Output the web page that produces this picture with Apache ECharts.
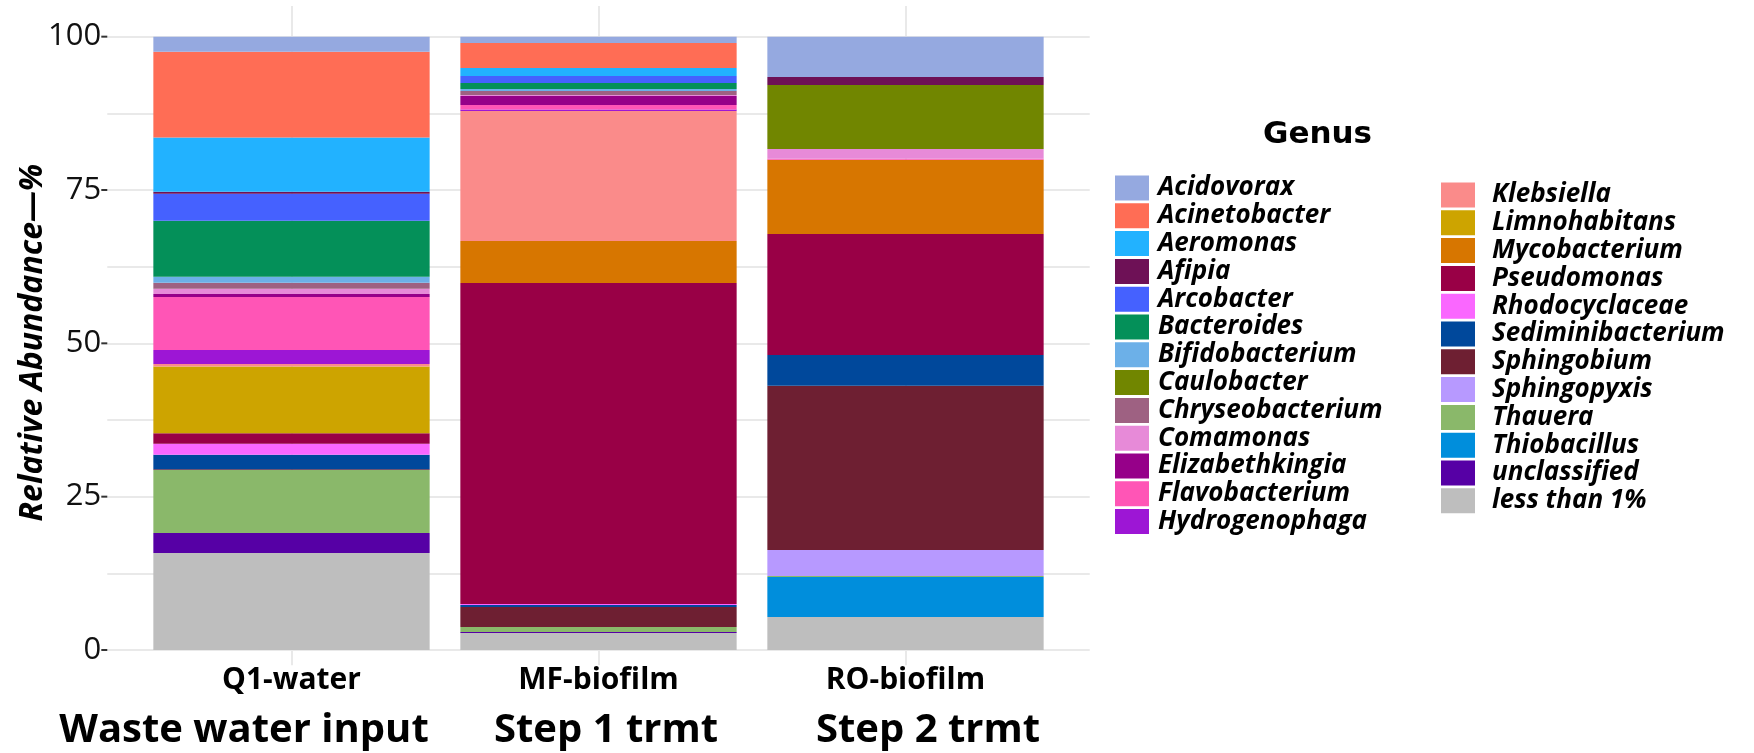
<!DOCTYPE html>
<html><head><meta charset="utf-8">
<script src="https://cdn.jsdelivr.net/npm/echarts@6/dist/echarts.min.js"></script>
<style>html,body{margin:0;padding:0;background:#fff}#c{width:1754px;height:753px}</style>
</head><body><div id="c"></div>
<script>
// ---- data ----
const genera = ['Acidovorax','Acinetobacter','Aeromonas','Afipia','Arcobacter','Bacteroides','Bifidobacterium','Caulobacter','Chryseobacterium','Comamonas','Elizabethkingia','Flavobacterium','Hydrogenophaga','Klebsiella','Limnohabitans','Mycobacterium','Pseudomonas','Rhodocyclaceae','Sediminibacterium','Sphingobium','Sphingopyxis','Thauera','Thiobacillus','unclassified','less than 1%'];
const genusColors = ['#95A9E0','#FF6D55','#22B2FF','#6E1156','#4561FF','#049059','#6CB0E8','#718600','#9E6182','#E78AD8','#960089','#FF55B6','#9D16D5','#FA8B8A','#CDA400','#D77600','#990046','#FA67FF','#00489B','#6E1F32','#B799FF','#8AB86A','#008EDC','#5600A5','#BEBEBE'];
const categories = ['Q1-water','MF-biofilm','RO-biofilm'];
const stageLabels = ['Waste water input','Step 1 trmt','Step 2 trmt'];
const q1Water   = [2.5, 14.0, 8.86, 0.33, 4.40, 9.13, 0.98, 0, 0.98, 0.82, 0.49, 8.64, 2.28, 0.43, 10.87, 0, 1.74, 1.79, 2.34, 0.13, 0, 10.27, 0, 3.26, 15.82];
const mfBiofilm = [1.03, 4.08, 1.30, 0, 1.14, 0.98, 0.33, 0, 0.65, 0.16, 1.47, 0.76, 0.22, 21.2, 0, 6.85, 52.34, 0.16, 0.33, 3.26, 0, 0.82, 0, 0.16, 2.77];
const roBiofilm = [6.58, 0, 0, 1.30, 0, 0, 0, 10.44, 0, 1.58, 0, 0.16, 0, 0, 0, 12.12, 19.73, 0, 5.0, 26.8, 4.24, 0.16, 6.52, 0, 5.38];
const yTickLabels = [0, 25, 50, 75, 100];

// ---- chart ----
const sampleValues = [q1Water, mfBiofilm, roBiofilm];
const FONT = '"Open Sans", Lato, sans-serif';
const T = 'rgba(0,0,0,0)', G = '#e9e9e9';
const isTick = v => yTickLabels.some(t => Math.abs(t - v) < 1e-6);

// stacked bars: first genus ends up on top (added last)
const series = genera.map((g, i) => ({
  name: g, type: 'bar', stack: 'total', barWidth: '90%',
  xAxisIndex: 1, yAxisIndex: 2,
  itemStyle: { color: genusColors[i] },
  data: categories.map((c, k) => sampleValues[k][i])
})).reverse();

const legendText = { fontFamily: FONT, fontStyle: 'italic', fontWeight: 'bold', fontSize: 26, lineHeight: 25, color: '#000' };

const chart = echarts.init(document.getElementById('c'), null, { renderer: 'canvas' });
chart.setOption({
  animation: false,
  backgroundColor: '#fff',
  grid: [
    // plotting panel (with ggplot-like expansion)
    { left: 107.3, right: 664.3, top: 6, bottom: 87.67, containLabel: false, outerBoundsMode: 'none' },
    // data region: 3 category bands, 0..100
    { left: 138.0, right: 695.0, top: 36.67, bottom: 103, containLabel: false, outerBoundsMode: 'none' }
  ],
  xAxis: [{
    gridIndex: 0, type: 'value', min: 0.4, max: 3.6, interval: 0.2,
    axisLine: { show: false }, axisTick: { show: false },
    splitLine: { show: true, lineStyle: { color: [T, T, T, G, T], width: 2 } },
    axisLabel: {
      margin: 0, fontFamily: FONT, fontWeight: 'bold', fontSize: 30, lineHeight: 30, color: '#000',
      formatter: v => { const k = Math.round(v); return (Math.abs(v - k) < 1e-6 && k >= 1 && k <= categories.length) ? categories[k - 1] : ''; }
    }
  }, {
    gridIndex: 1, type: 'category', data: categories, show: false
  }],
  yAxis: [{
    gridIndex: 0, type: 'value', min: -2.5, max: 105, interval: 2.5, position: 'left',
    name: 'Relative Abundance—%', nameLocation: 'middle', nameRotate: 90, nameGap: 58, nameMoveOverlap: false,
    nameTextStyle: { fontFamily: FONT, fontStyle: 'italic', fontWeight: 'bold', fontSize: 32, color: '#000', padding: [0, 14, 0, 0] },
    axisLine: { show: false }, axisTick: { show: false },
    splitLine: { show: true, lineStyle: { color: [T, G, T, T, T], width: 2 } },
    axisLabel: { margin: 6, fontFamily: FONT, fontSize: 31, color: '#111', padding: [0, 0, 8, 0],
      formatter: v => isTick(v) ? String(Math.round(v)) : '' }
  }, {
    gridIndex: 0, type: 'value', min: -2.5, max: 105, interval: 2.5, position: 'left',
    axisLine: { show: false }, axisTick: { show: false }, splitLine: { show: false },
    axisLabel: { margin: 0, formatter: v => isTick(v) ? '{t| }' : '',
      rich: { t: { width: 6, height: 2, backgroundColor: '#333', fontSize: 2, lineHeight: 2 } } }
  }, {
    gridIndex: 1, type: 'value', min: 0, max: 100, show: false
  }],
  title: { text: 'Genus', left: 1258, top: 114,
    textStyle: { fontFamily: '"DejaVu Sans", sans-serif', fontWeight: 'bold', fontSize: 31, color: '#000' } },
  legend: [{
    data: genera.slice(0, 13), orient: 'vertical', left: 1110, top: 170,
    icon: 'rect', itemWidth: 34, itemHeight: 25, itemGap: 1.8, selectedMode: false,
    textStyle: Object.assign({ padding: [0, 0, 0, 4] }, legendText)
  }, {
    data: genera.slice(13), orient: 'vertical', left: 1436, top: 177,
    icon: 'rect', itemWidth: 34, itemHeight: 25, itemGap: 1.8, selectedMode: false,
    textStyle: Object.assign({ padding: [0, 0, 0, 12] }, legendText)
  }],
  graphic: stageLabels.map((s, k) => ({
    type: 'text', x: [244, 606, 928][k], y: 731,
    style: { text: s, align: 'center', verticalAlign: 'middle', textAlign: 'center', textVerticalAlign: 'middle',
      font: 'bold 40px "Open Sans", Lato, sans-serif', fill: '#000' }
  })),
  series: series
});
</script></body></html>
